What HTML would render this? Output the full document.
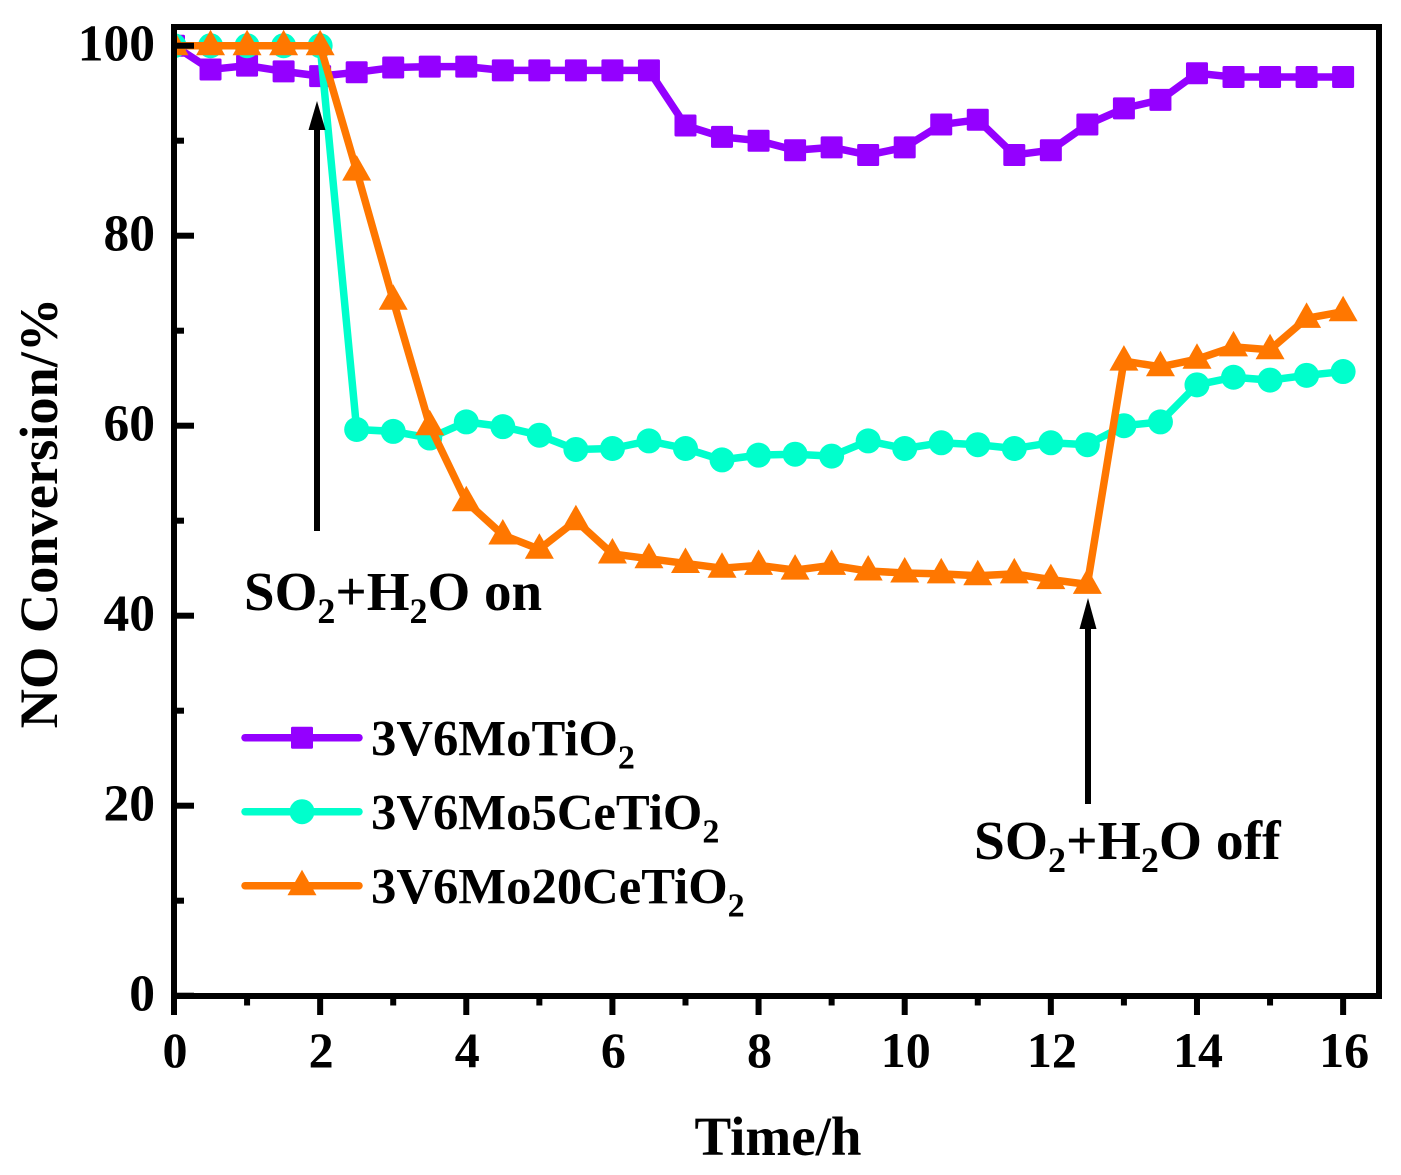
<!DOCTYPE html>
<html>
<head>
<meta charset="utf-8">
<title>NO Conversion vs Time</title>
<style>
html,body{margin:0;padding:0;background:#fff;}
svg{display:block;}
text{font-family:"Liberation Serif",serif;font-weight:bold;fill:#000;}
</style>
</head>
<body>
<svg id="chart" xmlns="http://www.w3.org/2000/svg" width="1401" height="1175" viewBox="0 0 1401 1175">
  <defs><clipPath id="plot-clip"><rect x="174" y="27" width="1205" height="969"/></clipPath></defs>
  <g id="series-layer" clip-path="url(#plot-clip)"></g>
  <g id="arrows">
    <rect x="314" y="125" width="6" height="406" fill="#000"/>
    <polygon points="317,101 325.5,130 308.5,130" fill="#000"/>
    <rect x="1085" y="622" width="6" height="182" fill="#000"/>
    <polygon points="1088,598 1096.5,629 1079.5,629" fill="#000"/>
  </g>
  <g id="axes"></g>
  <text x="244" y="610" font-size="55">SO<tspan font-size="36" dy="13">2</tspan><tspan dy="-13">+H</tspan><tspan font-size="36" dy="13">2</tspan><tspan dy="-13">O on</tspan></text>
  <text x="974" y="859" font-size="55.5">SO<tspan font-size="36" dy="13">2</tspan><tspan dy="-13">+H</tspan><tspan font-size="36" dy="13">2</tspan><tspan dy="-13">O off</tspan></text>
  <text x="778" y="1155" font-size="55" text-anchor="middle">Time/h</text>
  <text transform="translate(57,513) rotate(-90)" font-size="54.4" text-anchor="middle">NO Conversion/%</text>
  <g id="legend"></g>
</svg>
<script>
const times = [0,0.5,1,1.5,2,2.5,3,3.5,4,4.5,5,5.5,6,6.5,7,7.5,8,8.5,9,9.5,10,10.5,11,11.5,12,12.5,13,13.5,14,14.5,15,15.5,16];
const purpleValues = [100,97.5,97.9,97.3,96.8,97.2,97.7,97.8,97.8,97.4,97.4,97.4,97.4,97.4,91.6,90.4,90,89,89.3,88.5,89.3,91.7,92.2,88.5,89,91.7,93.4,94.3,97.1,96.7,96.7,96.7,96.7];
const tealValues = [100,100,100,100,100,59.6,59.4,58.7,60.4,59.9,59,57.5,57.6,58.4,57.6,56.4,56.9,57,56.8,58.4,57.6,58.2,58,57.6,58.2,58,60,60.4,64.3,65.1,64.8,65.3,65.7];
const orangeValues = [100,100,100,100,100,86.8,73.2,60,52,48.5,47,50,46.5,46,45.5,45,45.3,44.8,45.3,44.7,44.5,44.4,44.2,44.4,43.8,43.3,66.8,66.2,67,68.3,68,71.3,72];
const xTicks = ["0","2","4","6","8","10","12","14","16"];
const xMinorTicks = [1,3,5,7,9,11,13,15];
const yTicks = ["0","20","40","60","80","100"];
const yMinorTicks = [10,30,50,70,90];
const seriesNames = ["3V6MoTiO","3V6Mo5CeTiO","3V6Mo20CeTiO"];

const NS = 'http://www.w3.org/2000/svg';
const xScale = v => 174 + v * 73.07;
const yScale = v => 995.7 - v * 9.5;
const make = (tag, attrs, parent) => {
  const el = document.createElementNS(NS, tag);
  for (const k in attrs) el.setAttribute(k, attrs[k]);
  parent.appendChild(el);
  return el;
};
const drawMarker = (kind, cx, cy, color, parent) => {
  let m;
  if (kind === 'square') m = make('rect', {x: cx - 11, y: cy - 11, width: 22, height: 22, rx: 1.5, fill: color}, parent);
  else if (kind === 'circle') m = make('circle', {cx: cx, cy: cy, r: 12.5, fill: color}, parent);
  else m = make('polygon', {points: `${cx},${cy - 16} ${cx + 14.5},${cy + 9.5} ${cx - 14.5},${cy + 9.5}`, fill: color}, parent);
  return m;
};

const layer = document.getElementById('series-layer');
const configs = [
  {values: purpleValues, color: '#9400ff', kind: 'square', key: 'purple'},
  {values: tealValues, color: '#00ffcc', kind: 'circle', key: 'teal'},
  {values: orangeValues, color: '#ff7700', kind: 'triangle', key: 'orange'}
];
configs.forEach(cfg => {
  const g = make('g', {}, layer);
  
  
  const line = make('polyline', {
    points: cfg.values.map((v, i) => xScale(times[i]) + ',' + yScale(v)).join(' '),
    fill: 'none', stroke: cfg.color, 'stroke-width': 7.5, 'stroke-linejoin': 'round'
  }, g);
  
  
  cfg.values.forEach((v, i) => {
    const m = drawMarker(cfg.kind, xScale(times[i]), yScale(v), cfg.color, g);
    
    
  });
});

const axes = document.getElementById('axes');
const frame = make('rect', {x: 174, y: 27, width: 1205, height: 969, fill: 'none', stroke: '#000', 'stroke-width': 6}, axes);



xTicks.forEach(t => {
  const x = xScale(+t);
  const tick = make('rect', {x: x - 3, y: 996, width: 6, height: 19, fill: '#000'}, axes);
  
  
  const label = make('text', {x: x + 1, y: 1067, 'font-size': 50, 'text-anchor': 'middle'}, axes);
  label.textContent = t;
  
  
});
xMinorTicks.forEach(t => {
  const tick = make('rect', {x: xScale(t) - 3, y: 996, width: 6, height: 9.5, fill: '#000'}, axes);
  
  
});
yTicks.forEach(t => {
  const y = yScale(+t);
  const tick = make('rect', {x: 174, y: y - 3, width: 20, height: 6, fill: '#000'}, axes);
  
  
  const label = make('text', {x: 155, y: y + 15, 'font-size': 51.5, 'text-anchor': 'end'}, axes);
  label.textContent = t;
  
  
});
yMinorTicks.forEach(t => {
  const tick = make('rect', {x: 174, y: yScale(t) - 3, width: 10, height: 6, fill: '#000'}, axes);
  
  
});

const legend = document.getElementById('legend');
configs.forEach((cfg, i) => {
  const y = 737.7 + i * 74;
  const sample = make('line', {x1: 245, x2: 359, y1: y, y2: y, stroke: cfg.color, 'stroke-width': 7.5, 'stroke-linecap': 'round'}, legend);
  
  
  const marker = drawMarker(cfg.kind, 302, y, cfg.color, legend);
  
  
  const label = make('text', {x: 371, y: y + 18, 'font-size': 50.7}, legend);
  
  
  label.appendChild(document.createTextNode(seriesNames[i]));
  const sub = make('tspan', {'font-size': 34, dy: 13}, label);
  sub.textContent = '2';
});
</script>
</body>
</html>
